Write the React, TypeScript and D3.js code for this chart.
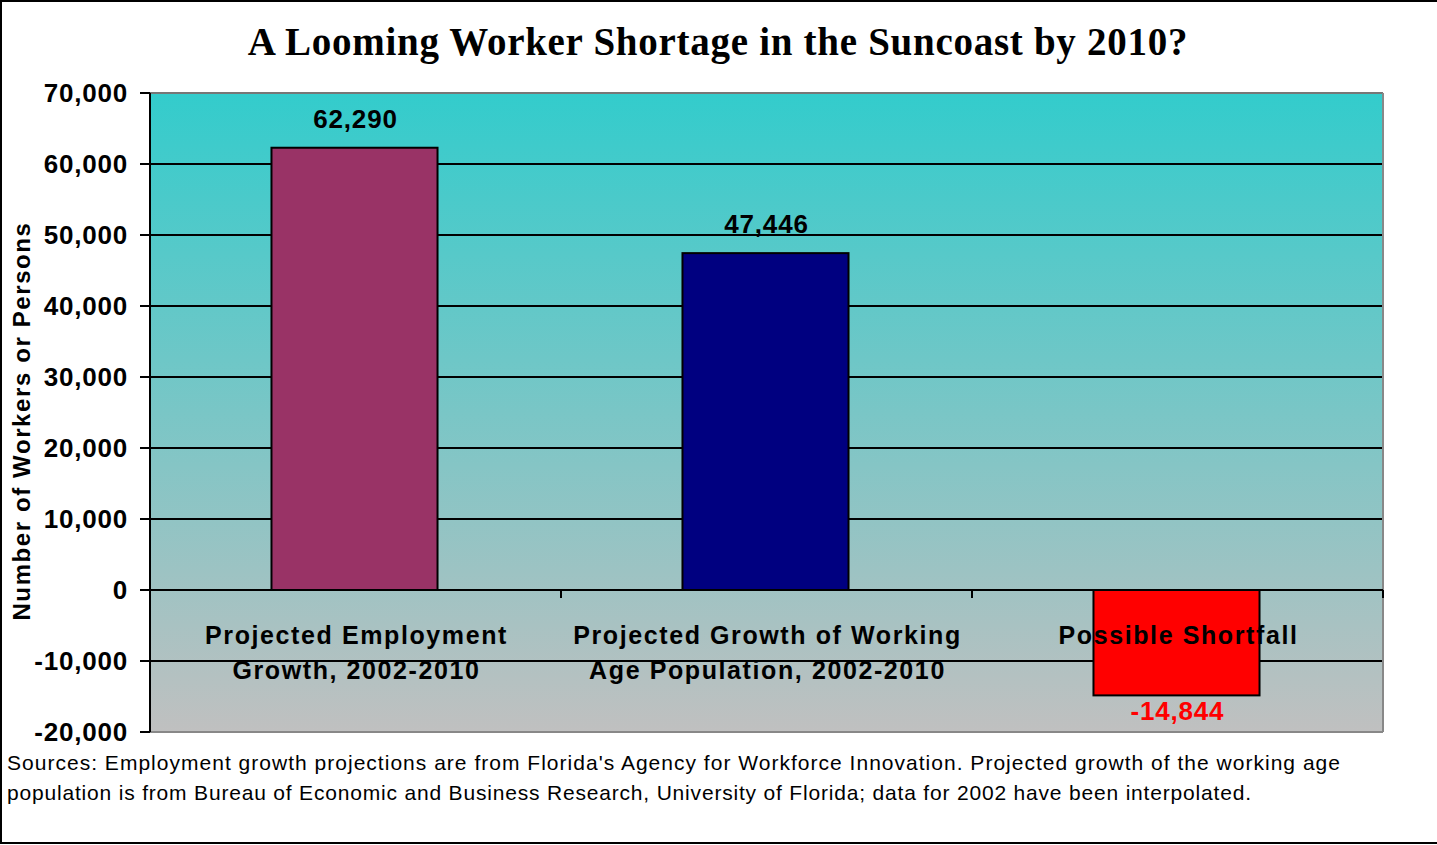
import React, { useEffect } from "react";
import * as d3 from "d3";

const categories = ["emp", "pop", "short"];
const categoryLines = [
  ["Projected Employment", "Growth, 2002-2010"],
  ["Projected Growth of Working", "Age Population, 2002-2010"],
  ["Possible Shortfall"],
];
const values = [62290, 47446, -14844];
const barColors = ["#993366", "#000080", "#FF0000"];
const labelColors = ["#000000", "#000000", "#FF0000"];
const yTicks = [-20000, -10000, 0, 10000, 20000, 30000, 40000, 50000, 60000, 70000];
const title = "A Looming Worker Shortage in the Suncoast by 2010?";
const yTitle = "Number of Workers or Persons";
const sourceLines = [
  "Sources: Employment growth projections are from Florida's Agency for Workforce Innovation.  Projected growth of the working age",
  "population is from Bureau of Economic and Business Research, University of Florida; data for 2002 have been interpolated.",
];

const W = 1437;
const H = 845;
const L = 150, R = 1383, T = 93, B = 732;

export default function App() {
  useEffect(() => {
    document.body.style.margin = "0";
  }, []);
  const y = d3.scaleLinear().domain([-20000, 70000]).range([B, T]);
  const x = d3.scaleBand<string>().domain(categories).range([L, R]).paddingInner(0.596).paddingOuter(0.298);
  const step = x.step();
  const f = d3.format(",");
  const fmt = (v: number) => f(v).replace("\u2212", "-");
  const arial = "'Liberation Sans', Arial, sans-serif";
  const y0 = y(0);
  return (
    <svg width={W} height={H} style={{ display: "block" }}>
      <defs>
        <linearGradient id="bg" x1="0" y1="0" x2="0" y2="1">
          <stop offset="0" stopColor="#33CCCC" />
          <stop offset="1" stopColor="#C0C0C0" />
        </linearGradient>
      </defs>
      <rect x={0} y={0} width={W} height={H} fill="#fff" />
      <rect x={1} y={1} width={W + 5} height={H - 3} fill="none" stroke="#000" strokeWidth={2} />
      <text x={718} y={55} textAnchor="middle" fontFamily="'Liberation Serif', 'Times New Roman', serif" fontWeight="bold" fontSize={39} letterSpacing={0.72}>
        {title}
      </text>
      <rect x={L} y={T} width={R - L} height={B - T} fill="url(#bg)" />
      {yTicks.map((t) => (
        <g key={t}>
          {t !== 70000 && t !== -20000 && (
            <line x1={L} x2={R} y1={y(t)} y2={y(t)} stroke="#000" strokeWidth={2} />
          )}
          <line x1={140} x2={L} y1={y(t)} y2={y(t)} stroke="#000" strokeWidth={2} />
          <text x={128} y={y(t) + 9} textAnchor="end" fontFamily={arial} fontWeight="bold" fontSize={26} letterSpacing={0.8}>
            {fmt(t)}
          </text>
        </g>
      ))}
      <line x1={L} x2={R} y1={T} y2={T} stroke="#777" strokeWidth={2} />
      <line x1={R} x2={R} y1={T} y2={B} stroke="#888" strokeWidth={2} />
      <line x1={L} x2={R} y1={B} y2={B} stroke="#888" strokeWidth={2} />
      {categories.map((c, i) => {
        const v = values[i];
        const top = Math.min(y(v), y0);
        const h = Math.abs(y(v) - y0);
        return (
          <rect key={c} x={(x(c) as number) - 1} y={top} width={x.bandwidth()} height={h} fill={barColors[i]} stroke="#000" strokeWidth={2} />
        );
      })}
      {categories.map((c, i) => {
        const cx = (x(c) as number) + x.bandwidth() / 2;
        return (
          <g key={"cl" + c}>
            {categoryLines[i].map((ln, j) => (
              <text key={j} x={cx + 1} y={644 + j * 35} textAnchor="middle" fontFamily={arial} fontWeight="bold" fontSize={25} letterSpacing={1.6}>
                {ln}
              </text>
            ))}
          </g>
        );
      })}
      <line x1={L} x2={R} y1={y0} y2={y0} stroke="#000" strokeWidth={2} />
      {[0, 1, 2, 3].map((k) => (
        <line key={k} x1={L + k * step} x2={L + k * step} y1={y0} y2={y0 + 8} stroke="#000" strokeWidth={2} />
      ))}
      <line x1={L} x2={L} y1={T} y2={B} stroke="#000" strokeWidth={2} />
      {categories.map((c, i) => {
        const v = values[i];
        const cx = (x(c) as number) + x.bandwidth() / 2;
        const ly = v >= 0 ? y(v) - 20 : y(v) + 25;
        return (
          <text key={"v" + c} x={cx} y={ly} textAnchor="middle" fontFamily={arial} fontWeight="bold" fontSize={26} letterSpacing={0.8} fill={labelColors[i]}>
            {fmt(v)}
          </text>
        );
      })}
      <text transform={`translate(30, ${421}) rotate(-90)`} textAnchor="middle" fontFamily={arial} fontWeight="bold" fontSize={24} letterSpacing={1.6}>
        {yTitle}
      </text>
      {sourceLines.map((s, i) => (
        <text key={i} x={7} y={770 + i * 30} fontFamily={arial} fontSize={21} textLength={i === 0 ? 1333 : 1244} lengthAdjust="spacing">
          {s}
        </text>
      ))}
    </svg>
  );
}
